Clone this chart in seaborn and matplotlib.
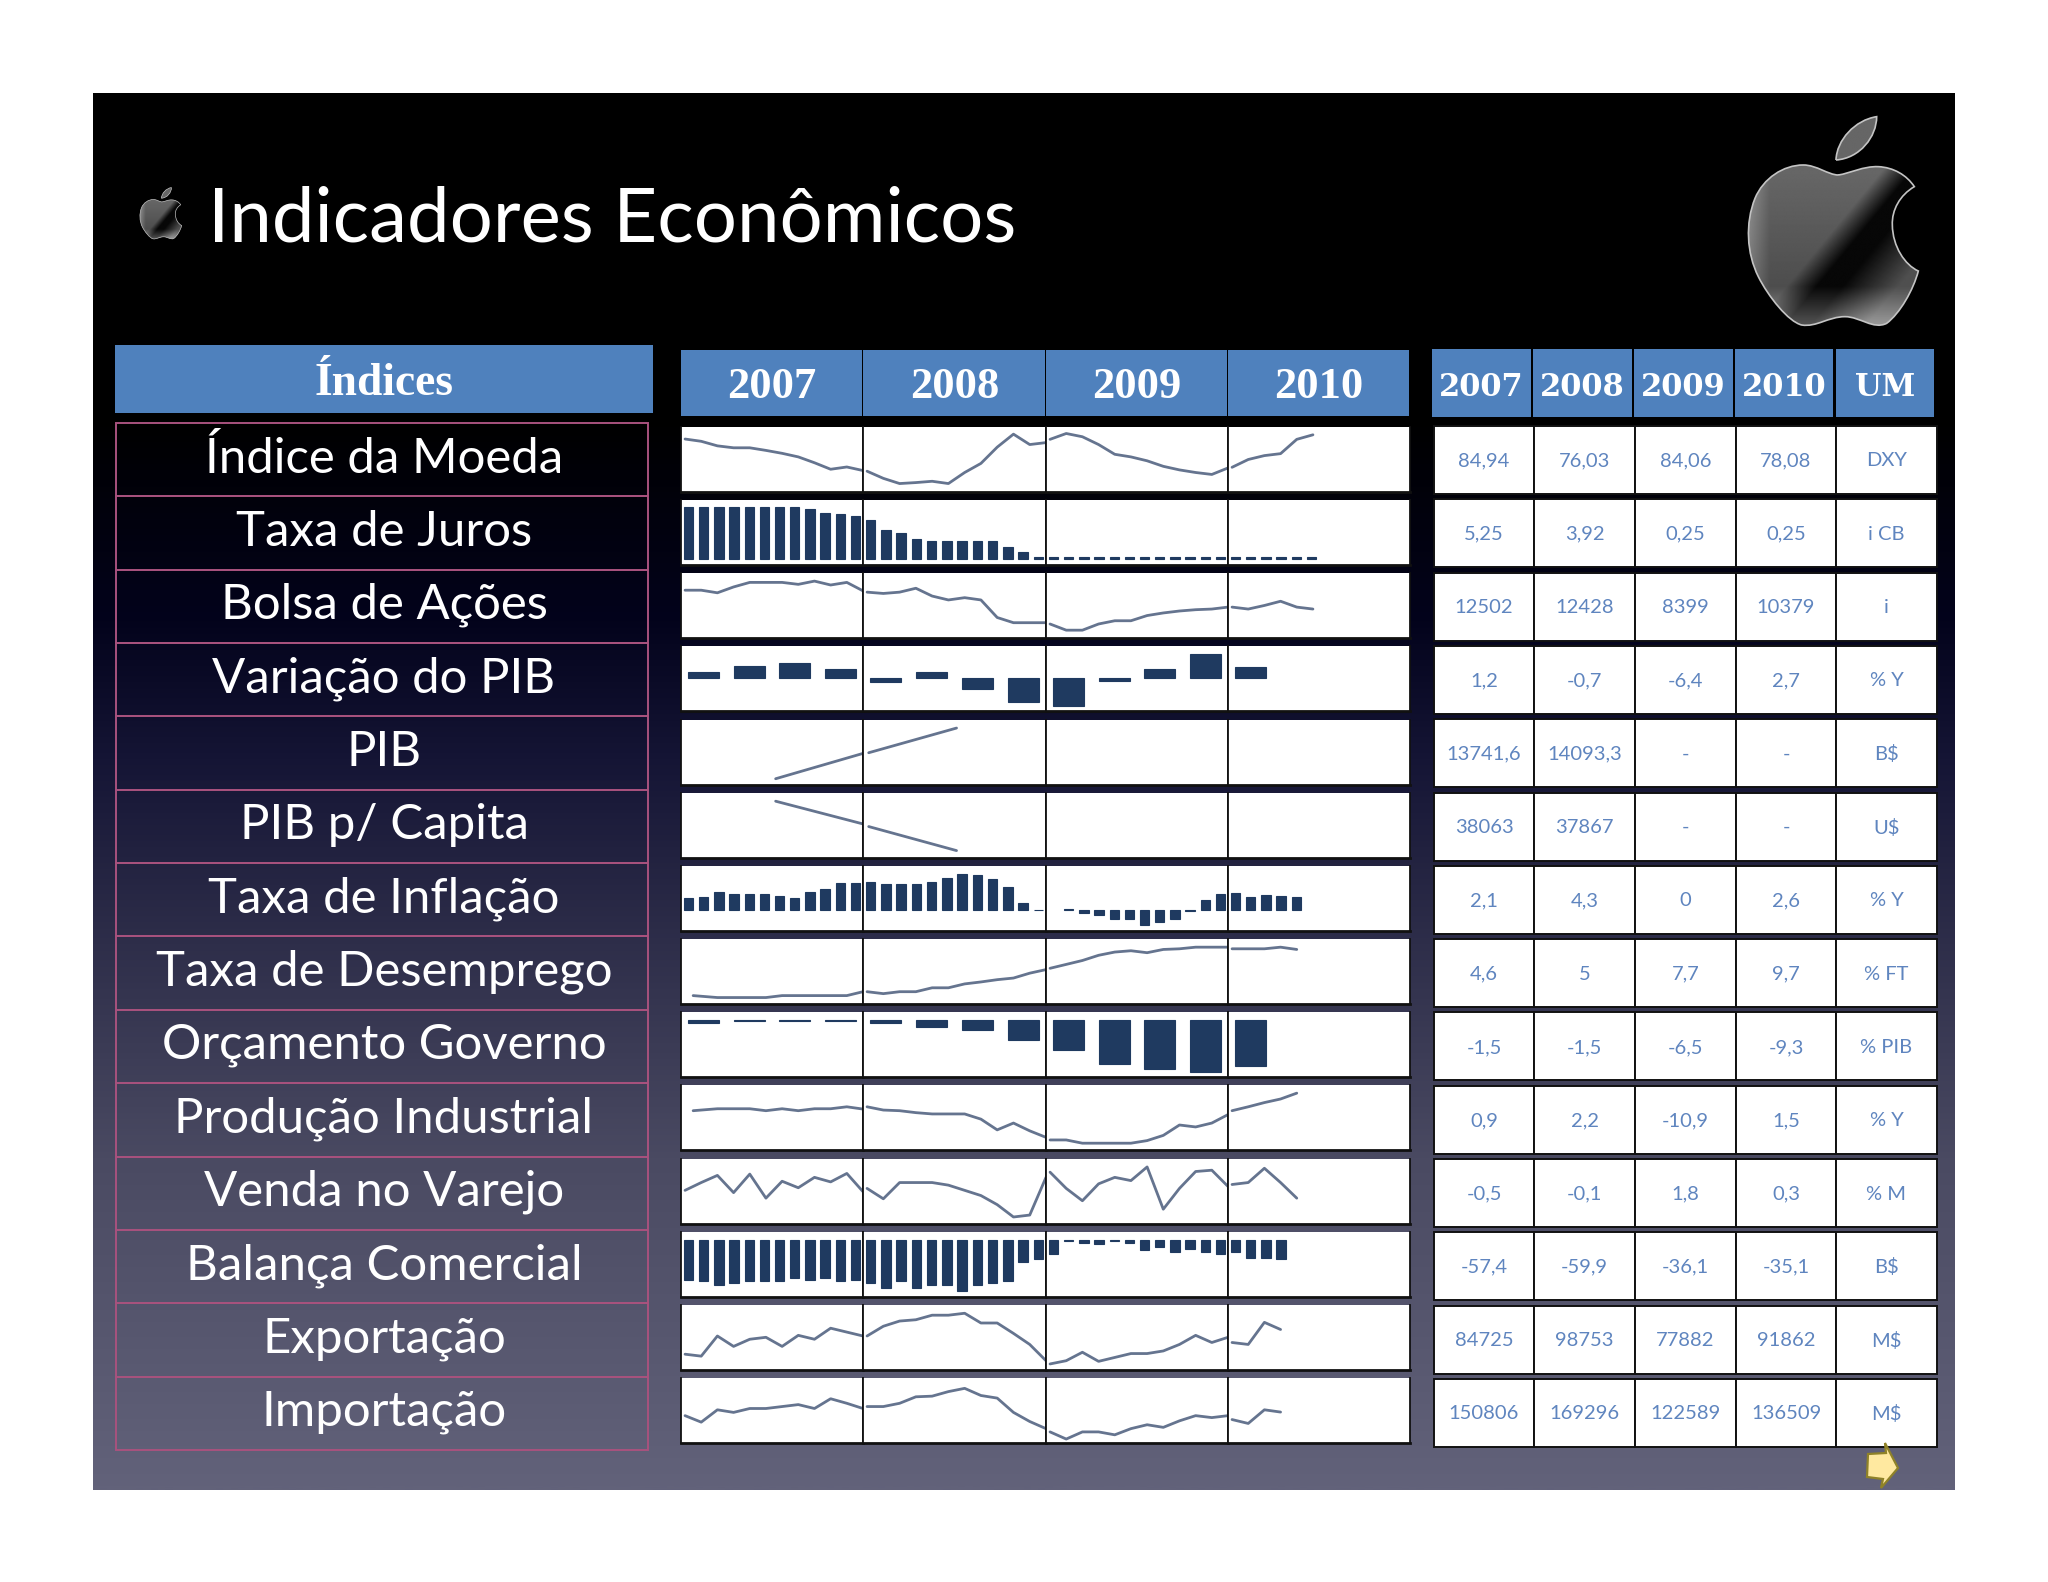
import numpy as np
import seaborn as sns
import matplotlib.pyplot as plt
from matplotlib.colors import LinearSegmentedColormap
from matplotlib.patches import Rectangle, PathPatch, Polygon
from matplotlib.path import Path

INDICES = ["Índice da Moeda", "Taxa de Juros", "Bolsa de Ações", "Variação do PIB", "PIB", "PIB p/ Capita",
           "Taxa de Inflação", "Taxa de Desemprego", "Orçamento Governo", "Produção Industrial",
           "Venda no Varejo", "Balança Comercial", "Exportação", "Importação"]
ANOS = ["2007", "2008", "2009", "2010"]
UNIDADES = ["DXY", "i CB", "i", "% Y", "B$", "U$", "% Y", "% FT", "% PIB", "% Y", "% M", "B$", "M$", "M$"]

TABELA = [
    ["84,94", "76,03", "84,06", "78,08"],
    ["5,25", "3,92", "0,25", "0,25"],
    ["12502", "12428", "8399", "10379"],
    ["1,2", "-0,7", "-6,4", "2,7"],
    ["13741,6", "14093,3", "-", "-"],
    ["38063", "37867", "-", "-"],
    ["2,1", "4,3", "0", "2,6"],
    ["4,6", "5", "7,7", "9,7"],
    ["-1,5", "-1,5", "-6,5", "-9,3"],
    ["0,9", "2,2", "-10,9", "1,5"],
    ["-0,5", "-0,1", "1,8", "0,3"],
    ["-57,4", "-59,9", "-36,1", "-35,1"],
    ["84725", "98753", "77882", "91862"],
    ["150806", "169296", "122589", "136509"],
]

# linhas: altura, em % da celula
moeda = [[81.5, 78, 71, 68, 68, 64, 59.5, 54, 45, 35, 38.5, 33],
         [32, 21, 13, 14.5, 16.5, 13, 30, 44, 69, 89, 73, 76],
         [81, 90, 85, 73, 58, 54, 48, 39.5, 34, 30, 27, 37],
         [38, 50, 56, 59, 81, 88]]
bolsa = [[74, 74, 70, 79, 86, 86, 86, 83, 88, 82, 86, 73],
         [71, 69, 71, 77, 65, 59, 62.5, 59, 32, 24, 24, 24],
         [22, 12.5, 12.5, 22, 27, 27, 35, 39, 42, 44, 45, 48],
         [48, 45, 50.5, 57, 48, 45]]
pib = [[9, 48], [49, 87], [], []]
pib_capita = [[87, 52], [48, 11], [], []]
pib_meses = [[6.6, 12], [1.1, 6.5], None, None]
desemprego = [[13, 10, 10, 10, 10, 13, 13, 13, 13, 13, 19],
              [19, 16, 19, 19, 25, 25, 31, 34, 37.5, 40, 47.5, 53],
              [55, 61, 67, 75, 80, 82, 79, 84, 85, 87.5, 87.5, 87.5],
              [85, 85, 85, 87.5, 84]]
producao = [[61, 64, 64, 64, 61, 64, 61, 64, 64, 67, 63.5],
            [67, 62, 61, 58, 56, 56, 56, 48, 31.5, 42, 30, 20],
            [16, 16, 11, 11, 11, 11, 15, 23, 39, 36, 42, 55],
            [61, 67, 73.5, 79, 88]]
# estas duas series comecam depois de janeiro de 2007
inicio_meses = [[1.5, 3, 4, 5, 6, 7, 8, 9, 10, 11, 12], None, None, None]
varejo = [[51, 63, 74, 47.5, 76, 39, 65, 55, 71, 64, 77, 49],
          [54, 38, 63, 63, 63, 59, 51, 43, 29, 10, 13, 71],
          [79, 54, 35, 61, 71, 66, 87, 22, 54, 80, 82, 57],
          [60, 63, 85, 63, 39]]
exportacao = [[24, 21, 52, 36, 47, 50, 36, 53, 47, 64, 58, 52],
              [52, 67, 75, 77, 84, 84, 87, 72, 72, 56, 39, 14],
              [9, 14, 27, 13, 19, 25, 25, 29, 39, 53, 42, 50],
              [42, 39, 73, 62]]
importacao = [[42, 32, 51, 47, 53, 53, 56, 59, 53, 68, 61, 53],
              [56, 56, 61, 71, 72, 79, 84, 73, 69, 47, 33, 22],
              [17, 6, 17, 17, 12.5, 22, 28, 24, 34, 42, 39, 42],
              [36, 30, 51, 47.5]]

# barras: valores estimados nas unidades do indicador
juros = [[5.25, 5.25, 5.25, 5.25, 5.25, 5.25, 5.25, 5.25, 5.08, 4.68, 4.5, 4.34],
         [3.9, 2.98, 2.6, 2.0, 1.83, 1.83, 1.83, 1.83, 1.83, 1.22, 0.68, 0.27],
         [0.2, 0.2, 0.2, 0.2, 0.2, 0.2, 0.2, 0.2, 0.2, 0.2, 0.2, 0.2],
         [0.2, 0.2, 0.2, 0.2, 0.2, 0.2]]
var_pib = [[1.3, 2.9, 3.5, 2.1], [-0.8, 1.3, -2.5, -5.5], [-6.4, -0.7, 2.1, 5.5], [2.5]]
inflacao = [[1.9, 2.1, 2.8, 2.5, 2.5, 2.5, 2.2, 1.9, 2.8, 3.3, 4.2, 4.2],
            [4.3, 4.0, 4.0, 4.0, 4.3, 5.0, 5.6, 5.4, 4.8, 3.6, 1.1, 0.1],
            [float("nan"), 0.15, -0.4, -0.7, -1.3, -1.4, -2.3, -1.8, -1.4, -0.2, 1.6, 2.5],
            [2.6, 2.1, 2.3, 2.2, 2.0]]
orcamento = [[-0.6, -0.3, -0.3, -0.3], [-0.6, -1.3, -2.0, -3.9], [-5.9, -8.5, -9.5, -10], [-8.9]]
balanca = [[-52, -54, -59, -56, -54, -54, -54, -50, -52, -50, -54, -52],
           [-56, -62, -54, -62, -59, -59, -66, -59, -56, -54, -29, -25],
           [-18, -1, -4, -6, -1, -4, -13, -9, -16, -12, -16, -18],
           [-16, -23, -23, -25]]

SPARK = [("line", moeda, None, None), ("bar", juros, (-0.6, 5.94), 12), ("line", bolsa, None, None),
         ("bar", var_pib, (-7.7, 7.3), 4), ("line", pib, None, pib_meses), ("line", pib_capita, None, pib_meses),
         ("bar", inflacao, (-3.2, 6.85), 12), ("line", desemprego, None, inicio_meses),
         ("bar", orcamento, (-11.1, 1.5), 4), ("line", producao, None, inicio_meses), ("line", varejo, None, None),
         ("bar", balanca, (-73.7, 10.5), 12), ("line", exportacao, None, None), ("line", importacao, None, None)]

W, H = 2048, 1582
SLIDE = (93, 93, 1955, 1490)
PANEL_X = [681, 863, 1046, 1228, 1410]
HEAD_X = [(1432, 1531), (1533, 1632), (1634, 1733), (1735, 1833), (1836, 1934)]
CELL_X = [1434, 1534, 1635, 1736, 1836, 1937]
BAR_COLOR = "#1f3a60"
LINE_COLOR = "#65748f"
HEAD_COLOR = "#4f81bd"
TEXT_BLUE = "#5f85bf"

sns.set_theme(style="white")
plt.rcParams["font.family"] = ["Lato", "DejaVu Sans"]


def add_cell_axes(fig, x0, x1, y0, y1):
    ax = fig.add_axes([x0 / W, 1 - y1 / H, (x1 - x0) / W, (y1 - y0) / H])
    ax.set_facecolor("white")
    for side, spine in ax.spines.items():
        spine.set_visible(side != "top")
        spine.set_color("#111111")
        spine.set_linewidth(2.0 if side == "bottom" else 1.3)
    return ax


def draw_line(ax, values, months=None):
    ax.set_xlim(-0.25, 11)
    ax.set_ylim(0, 100)
    if len(values) == 0:
        return
    x = [m - 1 for m in months] if months else list(range(len(values)))
    sns.lineplot(x=x, y=values, ax=ax, color=LINE_COLOR, lw=2.0, estimator=None, sort=False)


def draw_bars(ax, values, ylim, n):
    x = list(range(len(values)))
    sns.barplot(x=x, y=values, ax=ax, color=BAR_COLOR, saturation=1, width=0.62 if n == 12 else 0.68,
                native_scale=True, orient="x", errorbar=None, edgecolor=BAR_COLOR, linewidth=0.8)
    ax.set_xlim(-0.5, n - 0.5)
    ax.set_ylim(*ylim)


def apple_paths():
    body = [(415, 255),
            (450, 250), (490, 228), (535, 230),
            (580, 232), (620, 255), (643, 290),
            (600, 315), (575, 360), (577, 405),
            (578, 470), (615, 525), (655, 543),
            (640, 600), (600, 670), (560, 700),
            (520, 720), (480, 680), (435, 680),
            (385, 680), (350, 712), (305, 705),
            (265, 695), (205, 620), (175, 560),
            (140, 490), (135, 400), (165, 325),
            (190, 265), (250, 225), (310, 225),
            (350, 225), (385, 255), (415, 255)]
    leaf = [(408, 210),
            (410, 150), (465, 90), (530, 80),
            (530, 140), (480, 205), (408, 210)]
    return body, leaf


def draw_apple(ax, x0, y0, scale):
    # logo feito com curvas, coordenadas da propria forma
    for pts in apple_paths():
        xy = [(x0 + p[0] * scale, y0 + p[1] * scale) for p in pts]
        codes = [Path.MOVETO] + [Path.CURVE4] * (len(xy) - 1)
        path = Path(xy, codes)
        u, v = np.meshgrid(np.linspace(130, 670, 220), np.linspace(70, 720, 260))
        side = ((u - 270) * 290 + (v - 610) * 240) / 376
        mix = np.clip((side + 20) / 70, 0, 1)
        claro = 0.40 - 0.10 * np.clip((v - 250) / 350, 0, 1)
        escuro = 0.03 + 0.28 * np.clip((side - 110) / 130, 0, 1)
        shade = claro * (1 - mix) + escuro * mix
        shade = shade + 0.28 * np.clip((v - 590) / 110, 0, 1)
        shade = shade + 0.16 * np.clip((210 - u) / 60, 0, 1)
        im = ax.imshow(shade, cmap="gray", vmin=0, vmax=1, aspect="auto", zorder=3,
                       extent=(x0 + 130 * scale, x0 + 670 * scale, y0 + 720 * scale, y0 + 70 * scale))
        patch = PathPatch(path, facecolor="none", edgecolor="#c4c4c4", lw=1.2 * max(scale * 3, 0.4), zorder=4)
        ax.add_patch(patch)
        im.set_clip_path(patch)


fig = plt.figure(figsize=(W / 100, H / 100), dpi=100, facecolor="white")
bg = fig.add_axes([0, 0, 1, 1])
bg.axis("off")

# fundo do slide
stops = [(0.0, "#000000"), (0.234, "#000000"), (0.377, "#03031c"), (0.477, "#151535"),
         (0.61, "#2e2e4a"), (0.764, "#4a4a62"), (1.0, "#62627a")]
cmap = LinearSegmentedColormap.from_list("slide", stops)
grad = np.linspace(0, 1, 512).reshape(-1, 1)
bg.imshow(grad, cmap=cmap, aspect="auto", extent=(SLIDE[0], SLIDE[2], SLIDE[3], SLIDE[1]), zorder=0)

bg.text(208, 220, "Indicadores Econômicos", color="white", fontsize=54.8, va="center", ha="left")
draw_apple(bg, 1700, 90, 1 / 3)
draw_apple(bg, 128, 181, 0.082)

# coluna de indices
bg.add_patch(Rectangle((115, 345), 538, 68, fc=HEAD_COLOR, ec="none", zorder=2))
bg.text(384, 384, "Índices", color="white", fontsize=32.8, fontweight="bold", family="Liberation Serif",
        ha="center", va="center", zorder=3)
for i, nome in enumerate(INDICES):
    top = 423 + 73.35 * i
    bg.add_patch(Rectangle((116, top), 532, 73.35, fc="none", ec="#a8527e", lw=1.4, zorder=2))
    bg.text(384, top + 35.5, nome, color="white", fontsize=35.4, ha="center", va="center", zorder=3)

# cabecalho das sparklines
for j, ano in enumerate(ANOS):
    x0, x1 = PANEL_X[j], PANEL_X[j + 1]
    bg.add_patch(Rectangle((x0, 350), x1 - x0 - 1.5, 66, fc=HEAD_COLOR, ec="none", zorder=2))
    bg.text((x0 + x1) / 2, 387, ano, color="white", fontsize=32, fontweight="bold",
            family="Liberation Serif", ha="center", va="center", zorder=3)

# cabecalho e celulas da tabela
for j, nome in enumerate(ANOS + ["UM"]):
    x0, x1 = HEAD_X[j]
    bg.add_patch(Rectangle((x0, 349), x1 - x0, 68, fc=HEAD_COLOR, ec="none", zorder=2))
    bg.text((x0 + x1) / 2, 387, nome, color="white", fontsize=22, fontweight="bold",
            family="DejaVu Serif", ha="center", va="center", zorder=3)

for i, (linha, um) in enumerate(zip(TABELA, UNIDADES)):
    top = 426 + 73.3 * i
    for j, valor in enumerate(linha + [um]):
        x0, x1 = CELL_X[j], CELL_X[j + 1]
        bg.add_patch(Rectangle((x0, top), x1 - x0, 68, fc="white", ec="#111111", lw=1.4, zorder=2))
        bg.text((x0 + x1) / 2, top + 35, valor, color=TEXT_BLUE, fontsize=14.5,
                ha="center", va="center", zorder=3)

# seta amarela
seta = [(1885, 1443), (1898, 1468), (1881, 1488), (1883, 1479), (1867, 1477), (1868, 1454), (1886, 1453)]
bg.add_patch(Polygon(seta, closed=True, fc="#ffe9a0", ec="#8f8228", lw=1.6, zorder=5))

bg.set_xlim(0, W)
bg.set_ylim(H, 0)

# sparklines, uma celula por ano
for i, (tipo, serie, ylim, extra) in enumerate(SPARK):
    top = 427 + 73.15 * i
    for j in range(4):
        ax = add_cell_axes(fig, PANEL_X[j], PANEL_X[j + 1], top, top + 65)
        if tipo == "bar":
            draw_bars(ax, serie[j], ylim, extra)
        else:
            draw_line(ax, serie[j], extra[j] if extra else None)
        ax.set_xticks([])
        ax.set_yticks([])
        ax.set_xlabel("")
        ax.set_ylabel("")

fig.savefig("out.png", dpi=100)
